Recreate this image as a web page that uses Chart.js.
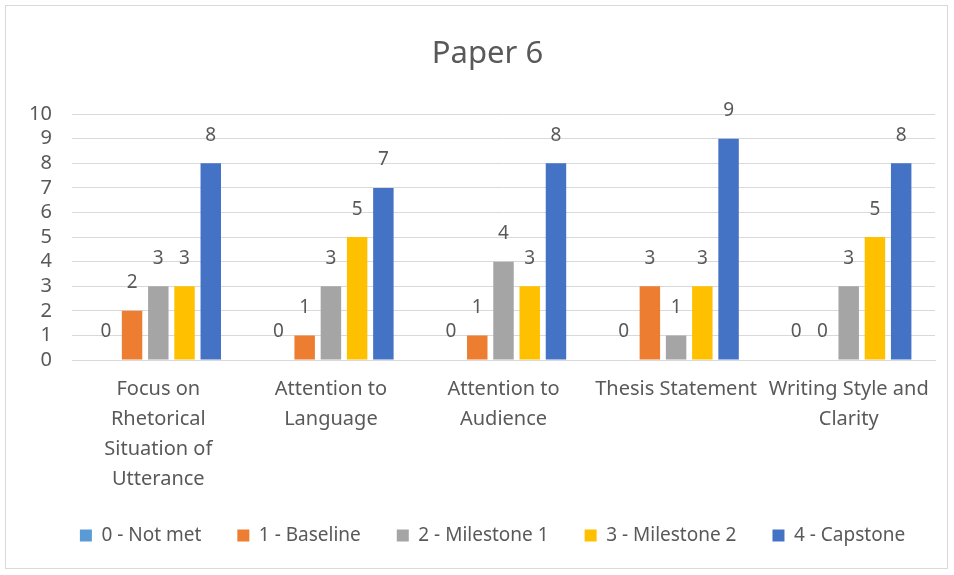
<!DOCTYPE html>
<html>
<head>
<meta charset="utf-8">
<script src="https://cdn.jsdelivr.net/npm/chart.js@4/dist/chart.umd.min.js"></script>
<style>
  body { margin: 0; background: #fff; }
  #wrap { width: 954px; height: 575px; position: relative; }
</style>
</head>
<body>
<div id="wrap"><canvas id="myChart" width="954" height="575"></canvas></div>
<script>
const categories = [
    ['Focus on', 'Rhetorical', 'Situation of', 'Utterance'],
    ['Attention to', 'Language'],
    ['Attention to', 'Audience'],
    'Thesis Statement',
    ['Writing Style and', 'Clarity']
];
const seriesNames = ['0 - Not met', '1 - Baseline', '2 - Milestone 1', '3 - Milestone 2', '4 - Capstone'];
const notMet = [0, 0, 0, 0, 0];
const baseline = [2, 1, 1, 3, 0];
const milestone1 = [3, 3, 4, 1, 3];
const milestone2 = [3, 5, 3, 3, 5];
const capstone = [8, 7, 8, 9, 8];
const yTicks = [0, 1, 2, 3, 4, 5, 6, 7, 8, 9, 10];

const colors = ['#5B9BD5', '#ED7D31', '#A5A5A5', '#FFC000', '#4472C4'];
const seriesValues = [notMet, baseline, milestone1, milestone2, capstone];
const textColor = '#595959';
const fontFamily = '"Noto Sans", sans-serif';

// value labels above every bar
const valueLabels = {
    id: 'valueLabels',
    afterDatasetsDraw(chart) {
        const ctx = chart.ctx;
        ctx.save();
        ctx.fillStyle = textColor;
        ctx.font = '19px ' + fontFamily;
        ctx.textAlign = 'center';
        ctx.textBaseline = 'middle';
        chart.data.datasets.forEach((ds, i) => {
            chart.getDatasetMeta(i).data.forEach((bar, j) => {
                ctx.fillText(String(ds.data[j]), bar.x, bar.y - 28);
            });
        });
        ctx.restore();
    }
};

// thin frame around the whole chart, plus nudge legend/title to the right like Excel does
const frame = {
    id: 'frame',
    afterLayout(chart) {
        chart.legend.left += 25;
        chart.legend.right += 25;
        chart.titleBlock.left += 20;
        chart.titleBlock.right += 20;
    },
    beforeDraw(chart) {
        const ctx = chart.ctx;
        ctx.save();
        ctx.fillStyle = '#fff';
        ctx.fillRect(0, 0, chart.width, chart.height);
        ctx.strokeStyle = '#d9d9d9';
        ctx.lineWidth = 1;
        ctx.strokeRect(5.5, 5.5, 942, 563);
        ctx.restore();
    }
};

const ctx = document.getElementById('myChart').getContext('2d');
const myChart = new Chart(ctx, {
    type: 'bar',
    data: {
        labels: categories,
        datasets: seriesNames.map((name, i) => ({
            label: name,
            data: seriesValues[i],
            backgroundColor: colors[i],
            borderWidth: 0,
            categoryPercentage: 0.76,
            barPercentage: 0.78
        }))
    },
    options: {
        responsive: false,
        animation: false,
        layout: { padding: { left: 0, right: 19, top: 0, bottom: 20 } },
        plugins: {
            title: {
                display: true,
                text: 'Paper 6',
                color: textColor,
                font: { family: fontFamily, size: 31, weight: 'normal', lineHeight: 1.2 },
                padding: { top: 36, bottom: 41 }
            },
            legend: {
                position: 'bottom',
                labels: {
                    color: textColor,
                    font: { family: fontFamily, size: 19 },
                    boxWidth: 12,
                    boxHeight: 12,
                    padding: 36
                }
            },
            tooltip: { enabled: false }
        },
        scales: {
            x: {
                grid: { display: false },
                border: { color: '#d9d9d9' },
                ticks: {
                    color: textColor,
                    font: { family: fontFamily, size: 20, lineHeight: 1.5 },
                    maxRotation: 0,
                    autoSkip: false,
                    padding: 6
                },
                afterFit(scale) { scale.height = 130; }
            },
            y: {
                min: 0,
                max: 10,
                afterBuildTicks(scale) { scale.ticks = yTicks.map(v => ({ value: v })); },
                grid: { color: '#d9d9d9', drawTicks: false },
                border: { display: false },
                ticks: {
                    color: textColor,
                    font: { family: fontFamily, size: 20 },
                    autoSkip: false,
                    padding: 20
                },
                afterFit(scale) { scale.width = 72; }
            }
        }
    },
    plugins: [frame, valueLabels]
});
</script>
</body>
</html>
